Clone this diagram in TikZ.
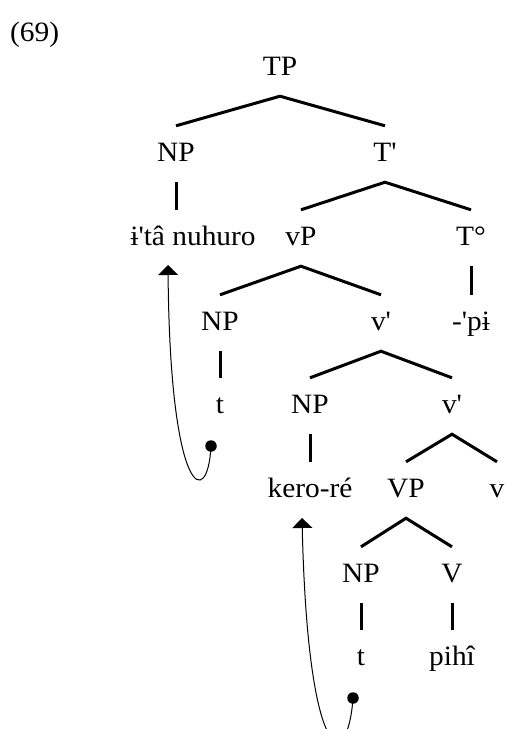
\documentclass[tikz,border=0pt]{standalone}
\usepackage{fontspec}
\setmainfont{Liberation Serif}[Ligatures=TeXOff,FakeStretch=1.05]
\usetikzlibrary{arrows.meta}
\begin{document}
\begin{tikzpicture}[x=1pt,y=-1pt,
  lab/.style={anchor=base,inner xsep=0pt,inner ysep=0pt,text height=35pt,text depth=21pt,font=\fontsize{28}{32}\selectfont},
  branch/.style={line width=3pt},
  move/.style={line width=1pt,-{Triangle[width=20pt,length=10pt]}},
  dotnode/.style={circle,fill=black,inner sep=0pt,minimum size=11.5pt}]
\useasboundingbox (0,0) rectangle (504,729);
\node[anchor=base west,inner sep=0pt,font=\fontsize{28}{32}\selectfont] (ex) at (10,41) {(69)};
\node[lab] (TP) at (280,75) {TP};
\node[lab] (NPa) at (176,161) {NP};
\node[lab] (Tb) at (385,161) {T'};
\node[lab] (nuh) at (193,245) {ɨ'tâ nuhuro};
\node[lab] (vP) at (301,245) {vP};
\node[lab] (Tdeg) at (471,245) {T°};
\node[lab] (NPb) at (220,330) {NP};
\node[lab] (vba) at (381,330) {v'};
\node[lab] (pi) at (471,330) {-'pɨ};
\node[lab] (ta) at (220,413) {t};
\node[lab] (NPc) at (310,413) {NP};
\node[lab] (vbb) at (452,413) {v'};
\node[lab] (kero) at (310,497) {kero-ré};
\node[lab] (VP) at (406,497) {VP};
\node[lab] (v) at (497,497) {v};
\node[lab] (NPd) at (361,582) {NP};
\node[lab] (V) at (452,582) {V};
\node[lab] (tb) at (361,665) {t};
\node[lab] (pihi) at (452,665) {pihî};
% branches
\draw[branch] (NPa.north) -- (TP.south) -- (Tb.north);
\draw[branch] (NPa.south) -- (NPa.south |- nuh.north);
\draw[branch] (vP.north) -- (Tb.south) -- (Tdeg.north);
\draw[branch] (Tdeg.south) -- (pi.north);
\draw[branch] (NPb.north) -- (vP.south) -- (vba.north);
\draw[branch] (NPb.south) -- (ta.north);
\draw[branch] (NPc.north) -- (vba.south) -- (vbb.north);
\draw[branch] (NPc.south) -- (kero.north);
\draw[branch] (VP.north) -- (vbb.south) -- (v.north);
\draw[branch] (NPd.north) -- (VP.south) -- (V.north);
\draw[branch] (NPd.south) -- (tb.north);
\draw[branch] (V.south) -- (pihi.north);
% movement
\node[dotnode] (da) at (211,446) {};
\node[dotnode] (db) at (353,698) {};
\coordinate (tipa) at (168,265);
\coordinate (tipb) at (302,518);
\draw[move] (da.center) .. controls (208,510) and (170,500) .. (tipa);
\draw[move] (db.center) .. controls (348,772) and (308,772) .. (tipb);
\end{tikzpicture}
\end{document}
